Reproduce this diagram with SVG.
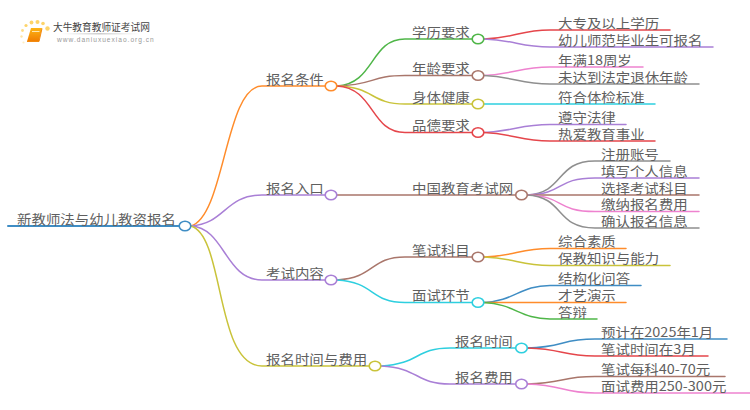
<svg xmlns="http://www.w3.org/2000/svg" width="750" height="410" viewBox="0 0 750 410">
<defs>
<linearGradient id="bk" x1="0" y1="0" x2="0" y2="1"><stop offset="0" stop-color="#fdb515"/><stop offset="1" stop-color="#f07c00"/></linearGradient>
<linearGradient id="ul" x1="0" y1="0" x2="1" y2="0"><stop offset="0" stop-color="#ddd" stop-opacity="0"/><stop offset=".5" stop-color="#ccc"/><stop offset="1" stop-color="#ddd" stop-opacity="0"/></linearGradient>
</defs>
<style>
text{font-family:"Noto Sans CJK SC","Liberation Sans",sans-serif;font-size:12.8px;fill:#5f5f5f}
.l{fill:none;stroke-width:1.5;stroke-linecap:round}
.n{fill:#fff;stroke-width:1.6}
.blue{stroke:#3f8dc4}.org{stroke:#ff8c2b}.pur{stroke:#a97fd6}.yel{stroke:#c9c33a}.grn{stroke:#4fb648}.brn{stroke:#a9766b}.red{stroke:#e5464b}.cyn{stroke:#2ecfdf}.pnk{stroke:#ee82cf}.gry{stroke:#8f8f8f}
</style>
<rect width="750" height="410" fill="#fff"/>
<g id="logo">
<g fill="#fdd46a"><circle cx="47.500" cy="28.500" r="2.200"/><circle cx="43" cy="23.500" r="1.800"/><circle cx="37.500" cy="22" r="2"/><circle cx="31.500" cy="22.500" r="1.900"/><circle cx="26" cy="25.500" r="1.600"/><circle cx="22.500" cy="30.500" r="1.400" opacity=".8"/><circle cx="21.500" cy="36.500" r="1.200" opacity=".6"/><circle cx="23.500" cy="42.500" r="1.100" opacity=".4"/></g>
<path d="M31 28h11l-3 13.500h-12z" fill="url(#bk)"/>
<path d="M27 41.500h12l3-13" fill="none" stroke="#f28a10" stroke-width="1"/>
<path d="M32 31.500h7.500" stroke="#ffe9b0" stroke-width="1"/>
<text x="53" y="31" style="font-size:9.700px;fill:#444">大牛教育教师证考试网</text>
<rect x="60" y="33" width="80" height="1.500" fill="url(#ul)"/>
<text x="57" y="42" style="font-size:6.600px;fill:#999;letter-spacing:1px;font-family:'Liberation Sans',sans-serif">www.daniuxuexiao.org.cn</text>
</g>
<g id="connectors">
<path class="l blue" style="stroke-width:2" d="M8 226H179"/>
<path class="l org" d="M191 226C225 216 225 86 262 86H325"/>
<path class="l pur" d="M191 226C225 224 225 195 262 195H325"/>
<path class="l pur" d="M191 226C225 228 225 280 262 280H325"/>
<path class="l yel" d="M191 226C225 236 215 366 262 366H369"/>
<path class="l grn" d="M337 86C375 84 370 39 405 39H472"/>
<path class="l brn" d="M337 86C375 85 370 75.500 405 75.500H472"/>
<path class="l yel" d="M337 86C375 87 370 104 405 104H472"/>
<path class="l red" d="M337 86C375 88 370 132.500 405 132.500H472"/>
<path class="l brn" d="M337 195H515"/>
<path class="l brn" d="M337 280C375 278 370 257 405 257H472"/>
<path class="l cyn" d="M337 280C375 282 370 302.500 405 302.500H472"/>
<path class="l cyn" d="M381 366C420 364 415 348 450 348H515"/>
<path class="l pur" d="M381 366C420 368 415 384 450 384H515"/>
<path class="l red" d="M484 39C515 38 520 30 550 30H670"/>
<path class="l pur" d="M484 39C515 40 520 47 550 47H713"/>
<path class="l pnk" d="M484 75.500C515 74 520 67 550 67H643"/>
<path class="l gry" d="M484 75.500C515 77 520 84 550 84H699"/>
<path class="l cyn" d="M484 104H655"/>
<path class="l pur" d="M484 132.500C515 131 520 124.500 550 124.500H626"/>
<path class="l red" d="M484 132.500C515 134 520 141 550 141H655"/>
<path class="l gry" d="M527 195C565 193 555 161 595 161H670"/>
<path class="l pur" d="M527 195C565 194 555 178 595 178H699"/>
<path class="l brn" d="M527 195H699"/>
<path class="l pnk" d="M527 195C565 196 555 211.500 595 211.500H699"/>
<path class="l gry" d="M527 195C565 197 555 228 595 228H699"/>
<path class="l org" d="M484 257C515 256 520 248.500 550 248.500H626"/>
<path class="l yel" d="M484 257C515 258 520 265.500 550 265.500H670"/>
<path class="l blue" d="M484 302.500C515 301 520 285.500 550 285.500H641"/>
<path class="l org" d="M484 302.500H626"/>
<path class="l grn" d="M484 302.500C515 304 520 319 550 319H597"/>
<path class="l blue" d="M527 348C565 347 560 339 595 339H727"/>
<path class="l red" d="M527 348C565 349 560 356 595 356H708"/>
<path class="l brn" d="M527 384C565 383 560 376.500 595 376.500H725"/>
<path class="l pnk" d="M527 384C565 385 560 393 595 393H750"/>
</g>
<g id="root"><text transform="translate(17 223.500) scale(1.13 1)">新教师法与幼儿教资报名</text><ellipse class="n blue" cx="185" cy="226" rx="5.800" ry="4.800"/></g>
<g id="n1"><text transform="translate(266 83.500) scale(1.13 1)">报名条件</text><ellipse class="n org" cx="331" cy="86" rx="5.800" ry="4.800"/></g>
<g id="n2"><text transform="translate(266 192.500) scale(1.13 1)">报名入口</text><ellipse class="n pur" cx="331" cy="195" rx="5.800" ry="4.800"/></g>
<g id="n3"><text transform="translate(266 277.500) scale(1.13 1)">考试内容</text><ellipse class="n pur" cx="331" cy="280" rx="5.800" ry="4.800"/></g>
<g id="n4"><text transform="translate(266 363.500) scale(1.13 1)">报名时间与费用</text><ellipse class="n yel" cx="375" cy="366" rx="5.800" ry="4.800"/></g>
<g id="n11"><text transform="translate(412 36.500) scale(1.13 1)">学历要求</text><ellipse class="n grn" cx="478" cy="39" rx="5.800" ry="4.800"/></g>
<g id="n12"><text transform="translate(412 73) scale(1.13 1)">年龄要求</text><ellipse class="n brn" cx="478" cy="75.500" rx="5.800" ry="4.800"/></g>
<g id="n13"><text transform="translate(412 101.500) scale(1.13 1)">身体健康</text><ellipse class="n yel" cx="478" cy="104" rx="5.800" ry="4.800"/></g>
<g id="n14"><text transform="translate(412 130) scale(1.13 1)">品德要求</text><ellipse class="n red" cx="478" cy="132.500" rx="5.800" ry="4.800"/></g>
<g id="n21"><text transform="translate(412 192.500) scale(1.13 1)">中国教育考试网</text><ellipse class="n brn" cx="521.500" cy="195" rx="5.800" ry="4.800"/></g>
<g id="n31"><text transform="translate(412 254.500) scale(1.13 1)">笔试科目</text><ellipse class="n brn" cx="478" cy="257" rx="5.800" ry="4.800"/></g>
<g id="n32"><text transform="translate(412 300) scale(1.13 1)">面试环节</text><ellipse class="n cyn" cx="478" cy="302.500" rx="5.800" ry="4.800"/></g>
<g id="n41"><text transform="translate(455 345.500) scale(1.13 1)">报名时间</text><ellipse class="n cyn" cx="521.500" cy="348" rx="5.800" ry="4.800"/></g>
<g id="n42"><text transform="translate(455 381.500) scale(1.13 1)">报名费用</text><ellipse class="n pur" cx="521.500" cy="384" rx="5.800" ry="4.800"/></g>
<g id="leaves">
<text transform="translate(558 27.500) scale(1.13 1)">大专及以上学历</text>
<text transform="translate(558 44.500) scale(1.13 1)">幼儿师范毕业生可报名</text>
<text transform="translate(558 64.500) scale(1.13 1)">年满18周岁</text>
<text transform="translate(558 81.500) scale(1.13 1)">未达到法定退休年龄</text>
<text transform="translate(558 101.500) scale(1.13 1)">符合体检标准</text>
<text transform="translate(558 122) scale(1.13 1)">遵守法律</text>
<text transform="translate(558 138.500) scale(1.13 1)">热爱教育事业</text>
<text transform="translate(601 158.500) scale(1.13 1)">注册账号</text>
<text transform="translate(601 175.500) scale(1.13 1)">填写个人信息</text>
<text transform="translate(601 192.500) scale(1.13 1)">选择考试科目</text>
<text transform="translate(601 209) scale(1.13 1)">缴纳报名费用</text>
<text transform="translate(601 225.500) scale(1.13 1)">确认报名信息</text>
<text transform="translate(558 246) scale(1.13 1)">综合素质</text>
<text transform="translate(558 263) scale(1.13 1)">保教知识与能力</text>
<text transform="translate(558 283) scale(1.13 1)">结构化问答</text>
<text transform="translate(558 300) scale(1.13 1)">才艺演示</text>
<text transform="translate(558 316.500) scale(1.13 1)">答辩</text>
<text transform="translate(601 336.500) scale(1.13 1)">预计在2025年1月</text>
<text transform="translate(601 353.500) scale(1.13 1)">笔试时间在3月</text>
<text transform="translate(601 374) scale(1.13 1)">笔试每科40-70元</text>
<text transform="translate(601 390.500) scale(1.13 1)">面试费用250-300元</text>
</g>
</svg>
